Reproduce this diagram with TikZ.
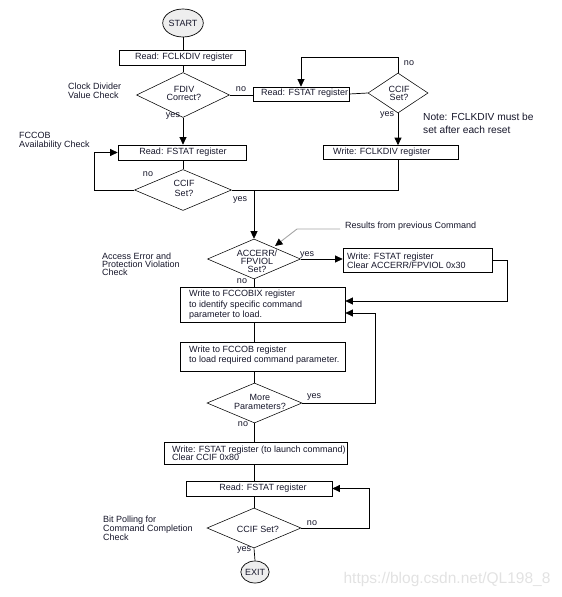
\documentclass[tikz,border=0pt]{standalone}
\usepackage{fontspec}
\setmainfont{Liberation Sans}
\usetikzlibrary{shapes.geometric,arrows.meta}
\definecolor{ink}{RGB}{22,22,42}
\definecolor{termfill}{RGB}{238,238,238}
\definecolor{wmark}{RGB}{226,226,226}
\definecolor{pointer}{RGB}{165,165,165}
\newcommand{\fsz}{\fontsize{9}{9}\selectfont}
\newcommand{\fnote}{\fontsize{10.2}{13}\selectfont}
\begin{document}
\begin{tikzpicture}[x=1pt,y=-1pt,
  every node/.style={text=ink},
  box/.style={draw=black, line width=0.7pt, inner sep=0pt, font=\fsz},
  boxtxt/.style={font=\fsz, inner sep=0pt, anchor=west, align=left},
  dia/.style={draw=black, line width=0.55pt, diamond, inner sep=0pt},
  diatxt/.style={font=\fsz, inner sep=0pt, align=center},
  term/.style={draw=black, line width=0.7pt, ellipse, fill=termfill, inner sep=0pt, font=\fsz},
  lbl/.style={font=\fsz, inner sep=0pt},
  side/.style={font=\fsz, inner sep=0pt, align=left, anchor=west},
  conn/.style={line width=0.7pt, draw=black},
  arr/.style={conn, -{Triangle[length=7.5pt,width=7pt]}},
]
\useasboundingbox (0,0) rectangle (562,597);

% ---------- top section ----------
\node[term, minimum width=35pt, minimum height=28pt] (start) at (183,23) {START};
\node[box, minimum width=126pt, minimum height=15pt] (rdiv) at (182,57.5) {};
\node[lbl] (rdivt) at (184,57) {Read: FCLKDIV register};

\node[dia, minimum width=93pt, minimum height=45pt] (fdiv) at (183,95) {};
\node[diatxt] (fdivt) at (184,93) {FDIV\\[-1pt]Correct?};

\node[box, minimum width=128pt, minimum height=15pt] (rst1) at (182,152.5) {};
\node[lbl] (rst1t) at (183,152) {Read: FSTAT register};
\node[dia, minimum width=97pt, minimum height=41pt] (ccif1) at (183,190) {};
\node[diatxt] (ccif1t) at (184,188) {CCIF\\[1pt]Set?};

\node[box, minimum width=96pt, minimum height=14pt] (rst2) at (301,94) {};
\node[boxtxt] (rst2t) at (261,93.5) {Read: FSTAT register};
\node[dia, minimum width=60pt, minimum height=40pt] (ccif2) at (398,93) {};
\node[diatxt] (ccif2t) at (399,93) {CCIF\\[-1pt]Set?};

\node[box, minimum width=135pt, minimum height=14pt] (wdiv) at (390.5,152.5) {};
\node[boxtxt] (wdivt) at (333,152) {Write: FCLKDIV register};

\coordinate (merge) at (254,190);

% ---------- middle section ----------
\node[dia, minimum width=93pt, minimum height=40pt] (acc) at (254,259) {};
\node[diatxt] (acct) at (257,261) {ACCERR/\\[-1pt]FPVIOL\\[-1pt]Set?};

\node[box, minimum width=149pt, minimum height=24pt] (wclr) at (417.5,260) {};
\node[boxtxt] (wclrt) at (347,260.5) {Write: FSTAT register\\Clear ACCERR/FPVIOL 0x30};

\node[box, minimum width=165pt, minimum height=35pt] (fix) at (262.5,304.5) {};
\node[boxtxt] (fixt) at (189,305) {Write to FCCOBIX register\\[1.5pt]to identify specific command\\[1.5pt]parameter to load.};

\node[box, minimum width=165pt, minimum height=29pt] (fcb) at (262.5,356.5) {};
\node[boxtxt] (fcbt) at (189,355.5) {Write to FCCOB register\\[1pt]to load required command parameter.};

\node[dia, minimum width=95pt, minimum height=40pt] (more) at (254.5,403) {};
\node[diatxt] (moret) at (260,401.5) {More\\Parameters?};

% ---------- bottom section ----------
\node[box, minimum width=183pt, minimum height=22pt] (launch) at (255.5,453) {};
\node[boxtxt] (launcht) at (172,453) {Write: FSTAT register (to launch command)\\[-1pt]Clear CCIF 0x80};

\node[box, minimum width=146pt, minimum height=15pt] (rst3) at (259,488.5) {};
\node[lbl] (rst3t) at (263,488) {Read: FSTAT register};

\node[dia, minimum width=94pt, minimum height=40pt] (ccif3) at (254,528) {};
\node[diatxt] (ccif3t) at (258,529) {CCIF Set?};

\node[term, minimum width=28pt, minimum height=22pt] (exit) at (255,572) {EXIT};

% ---------- connectors ----------
\draw[conn] (start) -- (start |- rdiv.north);
\draw[conn] (rdiv.south -| fdiv.north) -- (fdiv.north);
\draw[arr] (fdiv.south) -- (fdiv.south |- rst1.north);
\draw[conn] (fdiv.east) -- (fdiv.east -| rst2.west);
\draw[conn] (rst1.south -| ccif1.north) -- (ccif1.north);
\draw[arr] (ccif1.west) -- (94,190) |- (rst1.west);
\draw[conn] (ccif1.east) -- (merge);

\draw[conn] (rst2.east) -- (ccif2.west);
\draw[arr] (ccif2.north) -- (398,57) -| (rst2.north);
\draw[arr] (ccif2.south) -- (ccif2.south |- wdiv.north);
\draw[conn] (wdiv.south -| ccif2.south) -- (ccif2.south |- merge) -- (merge);
\draw[arr] (merge) -- (acc.north);

\draw[arr] (acc.east) -- (acc.east -| wclr.west);
\draw[arr] (wclr.east) -- (507,260) -- (507,301) -- ([yshift=3.5pt]fix.east);
\draw[conn] (acc.south) -- (acc.south |- fix.north);
\draw[conn] (fix.south -| acc.south) -- (fcb.north -| acc.south);
\draw[conn] (fcb.south -| acc.south) -- (more.north -| acc.south);
\draw[arr] (more.east) -- (375,403) -- (375,313) -- ([yshift=-8.5pt]fix.east);
\draw[conn] (more.south -| acc.south) -- (launch.north -| acc.south);
\draw[conn] (launch.south -| acc.south) -- (rst3.north -| acc.south);
\draw[conn] (rst3.south -| acc.south) -- (ccif3.north -| acc.south);
\draw[arr] (ccif3.east) -- (369,528) |- (rst3.east);
\draw[conn] (ccif3.south) -- (exit.north);

% pointer from "Results from previous Command"
\node[lbl, anchor=west] (res) at (345,226) {Results from previous Command};
\coordinate (resend) at (275,246);
\draw[line width=0.9pt, draw=pointer, -{Triangle[length=7.5pt,width=7pt,color=black]}]
  ([xshift=-5pt,yshift=-3pt]res.west) -- (297,229) -- (resend);

% ---------- yes / no labels ----------
\node[lbl] (n1) at (241,89) {no};
\node[lbl] (y1) at (173,116) {yes};
\node[lbl] (n2) at (148,174) {no};
\node[lbl] (y2) at (240,200) {yes};
\node[lbl] (n3) at (409,63) {no};
\node[lbl] (y3) at (387,115) {yes};
\node[lbl] (y4) at (307,255) {yes};
\node[lbl] (n4) at (242,281) {no};
\node[lbl] (y5) at (314,397) {yes};
\node[lbl] (n5) at (243,424) {no};
\node[lbl] (n6) at (312,523) {no};
\node[lbl] (y6) at (244,550) {yes};

% ---------- side notes ----------
\node[side] (s1) at (68,90.5) {Clock Divider\\Value Check};
\node[side] (s2) at (19,141) {FCCOB\\[0.5pt]Availability Check};
\node[side] (s3) at (102,264) {Access Error and\\[-1pt]Protection Violation\\[-1pt]Check};
\node[side] (s4) at (103,528) {Bit Polling for\\Command Completion\\Check};
\node[side, font=\fnote] (s5) at (423,123.5) {Note: FCLKDIV must be\\set after each reset};

% watermark
\node[inner sep=0pt, text=wmark, font=\fontsize{15.5}{17}\selectfont] (wm) at (447,579) {https://blog.csdn.net/QL198\_8};
\end{tikzpicture}
\end{document}
